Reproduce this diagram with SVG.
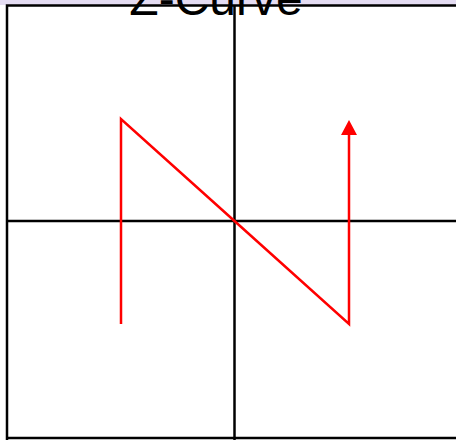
<svg xmlns="http://www.w3.org/2000/svg" width="456" height="440" viewBox="0 0 456 440">
<defs>
<style>
.grid{stroke:#000;stroke-width:2.5;fill:none}
.curve{stroke:#ff0000;stroke-width:2.5;fill:none}
.title{font-family:"Liberation Sans",Arial,sans-serif;font-size:48px;fill:#000}
</style>
</defs>
<rect x="0" y="0" width="456" height="440" fill="#fff"/>
<rect x="0" y="0" width="456" height="5" fill="#e4dcf2"/>
<g id="frame">
<path class="grid" d="M7 440 V5.5 H456"/>
<path class="grid" d="M6 438 H456"/>
<path class="grid" d="M234.5 5 V440"/>
<path class="grid" d="M6 221 H456"/>
</g>
<g id="connectors">
<path class="curve" d="M121 324 V119 L234.5 221 L349 324 V134"/>
<path d="M349 120 L357 135 L341 135 Z" fill="#ff0000"/>
</g>
<text class="title" x="216" y="15" text-anchor="middle">Z-Curve</text>
</svg>
